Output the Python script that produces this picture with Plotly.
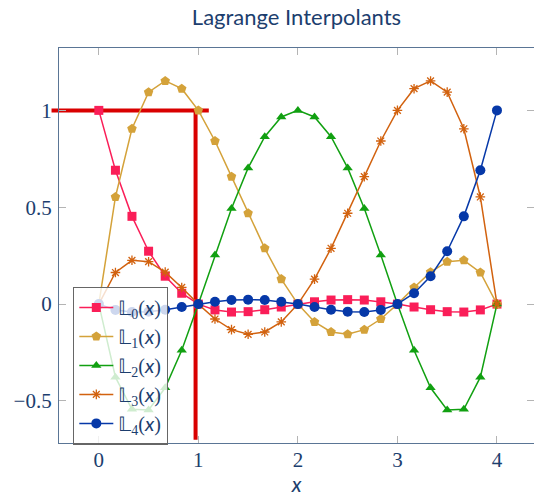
import plotly.graph_objects as go

# sample points (x = k/6)
x_vals = [0, 0.167, 0.333, 0.5, 0.667, 0.833, 1, 1.167, 1.333, 1.5, 1.667, 1.833,
          2, 2.167, 2.333, 2.5, 2.667, 2.833, 3, 3.167, 3.333, 3.5, 3.667, 3.833, 4]

L0 = [1.000, 0.691, 0.453, 0.273, 0.144, 0.056, 0.000, -0.030, -0.041, -0.039, -0.029, -0.015,
      0.000, 0.012, 0.021, 0.023, 0.021, 0.012, 0.000, -0.015, -0.029, -0.039, -0.041, -0.030, 0.000]
L1 = [0.000, 0.553, 0.905, 1.094, 1.152, 1.112, 1.000, 0.842, 0.658, 0.469, 0.288, 0.129,
      0.000, -0.092, -0.144, -0.156, -0.132, -0.077, 0.000, 0.086, 0.165, 0.219, 0.226, 0.163, 0.000]
L2 = [0.000, -0.377, -0.543, -0.547, -0.432, -0.238, 0.000, 0.253, 0.494, 0.703, 0.864, 0.966,
      1.000, 0.966, 0.864, 0.703, 0.494, 0.253, 0.000, -0.238, -0.432, -0.547, -0.543, -0.377, 0.000]
L3 = [0.000, 0.163, 0.226, 0.219, 0.165, 0.086, 0.000, -0.077, -0.132, -0.156, -0.144, -0.092,
      0.000, 0.129, 0.288, 0.469, 0.658, 0.842, 1.000, 1.112, 1.152, 1.094, 0.905, 0.553, 0.000]
L4 = [0.000, -0.030, -0.041, -0.039, -0.029, -0.015, 0.000, 0.012, 0.021, 0.023, 0.021, 0.012,
      0.000, -0.015, -0.029, -0.039, -0.041, -0.030, 0.000, 0.056, 0.144, 0.273, 0.453, 0.691, 1.000]

series = [L0, L1, L2, L3, L4]
subs = ["0", "1", "2", "3", "4"]
names = ["𝕃<sub>" + s + "</sub>(<span style='font-family:Lato'><i>x</i></span>)" for s in subs]
colors = ["#fa1e58", "#d4a23a", "#11a011", "#d2620f", "#0638a8"]
symbols = ["square", "pentagon", "triangle-up", "asterisk-open", "circle"]
sizes = [9, 10, 9, 8, 10]

# highlight lines
hl_y = 1.0
hl_x = [-0.475, 1.105]
vl_x = 0.972
vl_y = [-0.70, 1.0]

x_range = [-0.4, 4.372]
y_range = [-0.717, 1.322]
y_ticks = [-0.5, 0, 0.5, 1]
y_ticktext = ["−0.5", "0", "0.5", "1"]
x_ticks = [0, 1, 2, 3, 4]

navy = "#1c3e6e"
axis_col = "#5a7595"
tick_col = "#b4b4b4"

fig = go.Figure()
for ys, nm, c, s, sz in zip(series, names, colors, symbols, sizes):
    fig.add_trace(go.Scatter(
        x=x_vals, y=ys, name=nm, mode="lines+markers",
        line=dict(color=c, width=1.5),
        marker=dict(symbol=s, size=sz, color=c,
                    line=dict(color=c, width=1.3 if "open" in s else 0)),
    ))

def to_paper(v):
    return (v - x_range[0]) / (x_range[1] - x_range[0])

fig.add_shape(type="line", xref="paper", yref="y",
              x0=to_paper(hl_x[0]), x1=to_paper(hl_x[1]), y0=hl_y, y1=hl_y,
              line=dict(color="#d90000", width=4), layer="below")
fig.add_shape(type="line", xref="x", yref="y",
              x0=vl_x, x1=vl_x, y0=vl_y[0], y1=vl_y[1],
              line=dict(color="#d90000", width=4), layer="below")

tickfont = dict(family="Liberation Serif", size=21, color=navy)

fig.update_layout(
    width=534, height=496,
    margin=dict(l=59, r=0, t=48, b=49, pad=0),
    paper_bgcolor="white", plot_bgcolor="white",
    title=dict(text="Lagrange Interpolants", x=0.5, xref="paper", xanchor="center",
               y=0.965, yref="container", yanchor="middle",
               font=dict(family="Lato", size=22, color=navy)),
    xaxis=dict(range=x_range, tickvals=x_ticks, showgrid=False, zeroline=False,
               showline=True, linecolor=axis_col, linewidth=1.3, mirror=False,
               ticks="inside", ticklen=7, tickwidth=1.3, tickcolor=tick_col,
               tickfont=tickfont, ticklabelstandoff=-2,
               title=dict(text="<i>x</i>", standoff=9,
                          font=dict(family="Lato", size=21, color=navy))),
    xaxis2=dict(range=x_range, tickvals=x_ticks, overlaying="x", side="top", anchor="y",
                showgrid=False, zeroline=False, showticklabels=False,
                showline=True, linecolor=axis_col, linewidth=1.3,
                ticks="inside", ticklen=7, tickwidth=1.3, tickcolor=tick_col),
    yaxis=dict(range=y_range, tickvals=y_ticks, ticktext=y_ticktext,
               showgrid=False, zeroline=False,
               showline=True, linecolor=axis_col, linewidth=1.3, mirror=False,
               ticks="inside", ticklen=7, tickwidth=1.3, tickcolor=tick_col,
               tickfont=tickfont, ticklabelstandoff=2),
    yaxis2=dict(range=y_range, tickvals=y_ticks, overlaying="y", side="right", anchor="x",
                showgrid=False, zeroline=False, showticklabels=False, showline=False,
                ticks="inside", ticklen=7, tickwidth=1.3, tickcolor=tick_col),
    legend=dict(x=0.0295, y=0.396, xanchor="left", yanchor="top",
                bgcolor="rgba(255,255,255,0.8)", bordercolor="#666666", borderwidth=1.3,
                font=dict(family="Liberation Serif", size=20, color=navy),
                tracegroupgap=0, itemwidth=34),
    showlegend=True,
)

# invisible trace to activate secondary axes
fig.add_trace(go.Scatter(x=[None], y=[None], xaxis="x2", yaxis="y2",
                         showlegend=False, hoverinfo="skip"))

fig.write_html("out.html")
